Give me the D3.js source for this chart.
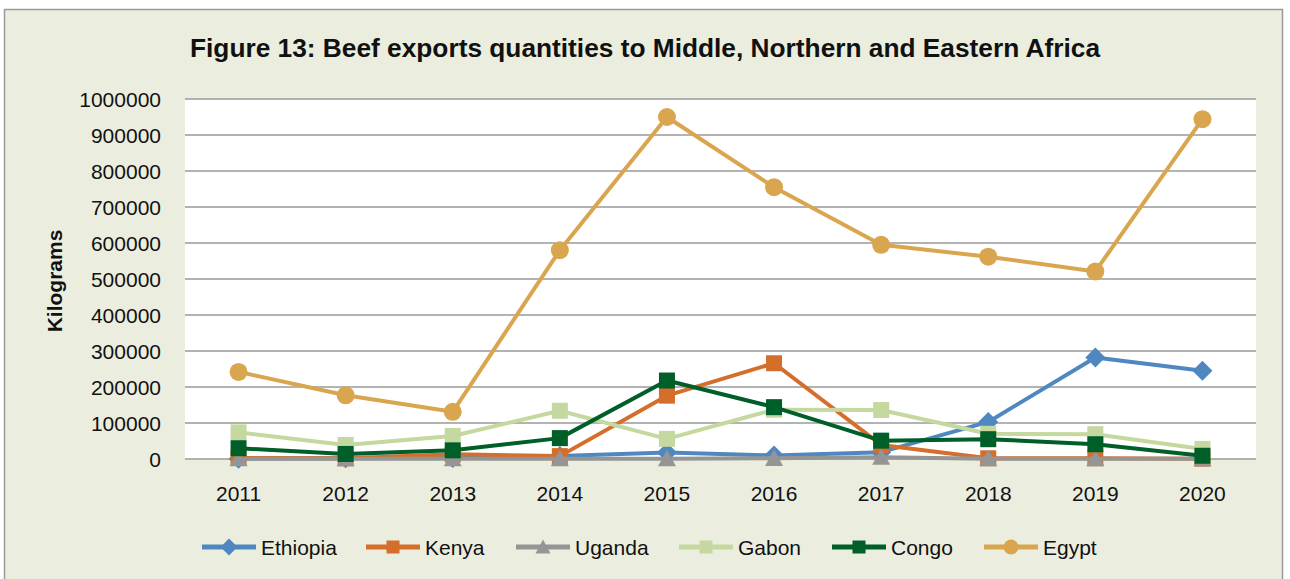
<!DOCTYPE html>
<html>
<head>
<meta charset="utf-8">
<script src="https://cdn.jsdelivr.net/npm/d3@7"></script>
<style>
  html, body { margin: 0; padding: 0; background: #fff; }
  svg { display: block; font-family: "Liberation Sans", Arial, sans-serif; }
</style>
</head>
<body>
<svg id="chart" width="1290" height="579"></svg>
<script>
const years = ["2011", "2012", "2013", "2014", "2015", "2016", "2017", "2018", "2019", "2020"];
const yTicks = [0, 100000, 200000, 300000, 400000, 500000, 600000, 700000, 800000, 900000, 1000000];

const ethiopia = [1000, 2000, 3000, 8000, 18000, 10000, 19000, 103000, 282000, 245000];
const kenya = [3000, 2000, 13000, 8000, 176000, 266000, 39000, 2000, 2000, 1000];
const uganda = [1000, 1000, 1000, 1000, 1000, 2000, 5000, 1000, 1000, 1000];
const gabon = [74000, 39000, 64000, 134000, 56000, 137000, 136000, 70000, 69000, 28000];
const congo = [30000, 14000, 24000, 58000, 218000, 144000, 51000, 55000, 41000, 9000];
const egypt = [242000, 177000, 131000, 580000, 950000, 755000, 595000, 562000, 521000, 944000];

const seriesNames = ["Ethiopia", "Kenya", "Uganda", "Gabon", "Congo", "Egypt"];
const seriesValues = [ethiopia, kenya, uganda, gabon, congo, egypt];
const seriesColors = ["#4F88C0", "#D56E2B", "#959595", "#C5D89F", "#005E29", "#D9A64F"];
const seriesShapes = ["diamond", "square", "triangle", "square", "square", "circle"];

const svg = d3.select("#chart");
const plot = { left: 185, right: 1256, top: 99, bottom: 459 };

// frame
svg.append("rect")
  .attr("x", 4.5).attr("y", 9.5)
  .attr("width", 1278).attr("height", 600)
  .attr("fill", "#EBEEDE")
  .attr("stroke", "#9A9A9A")
  .attr("stroke-width", 1.5);

svg.append("rect")
  .attr("x", plot.left).attr("y", plot.top)
  .attr("width", plot.right - plot.left).attr("height", plot.bottom - plot.top)
  .attr("fill", "#fff");

const x = d3.scaleBand().domain(years).range([plot.left, plot.right]);
const y = d3.scaleLinear().domain([0, 1000000]).range([plot.bottom, plot.top]);

// gridlines
svg.append("g")
  .selectAll("line")
  .data(yTicks)
  .enter().append("line")
  .attr("x1", plot.left).attr("x2", plot.right)
  .attr("y1", d => y(d)).attr("y2", d => y(d))
  .attr("stroke", "#9A9A9A")
  .attr("stroke-width", 1.5);

// y tick labels
svg.append("g")
  .selectAll("text")
  .data(yTicks)
  .enter().append("text")
  .attr("x", 161)
  .attr("y", d => y(d) + 8)
  .attr("text-anchor", "end")
  .attr("font-size", 21)
  .attr("fill", "#111")
  .text(d => d);

// x tick labels
svg.append("g")
  .selectAll("text")
  .data(years)
  .enter().append("text")
  .attr("x", d => x(d) + x.bandwidth() / 2)
  .attr("y", 501)
  .attr("text-anchor", "middle")
  .attr("font-size", 21)
  .attr("fill", "#111")
  .text(d => d);

// titles
svg.append("text")
  .attr("x", 645).attr("y", 57)
  .attr("text-anchor", "middle")
  .attr("font-size", 26)
  .attr("font-weight", "bold")
  .attr("fill", "#111")
  .attr("textLength", 910)
  .attr("lengthAdjust", "spacingAndGlyphs")
  .text("Figure 13: Beef exports quantities to Middle, Northern and Eastern Africa");

svg.append("text")
  .attr("transform", "translate(62,281) rotate(-90)")
  .attr("text-anchor", "middle")
  .attr("font-size", 21)
  .attr("font-weight", "bold")
  .attr("fill", "#111")
  .text("Kilograms");

function marker(g, shape, color, s) {
  if (shape == "square") {
    g.append("rect").attr("x", -s / 2).attr("y", -s / 2).attr("width", s).attr("height", s).attr("fill", color);
  } else if (shape == "circle") {
    g.append("circle").attr("r", s / 2 + 1).attr("fill", color);
  } else if (shape == "diamond") {
    const r = s / 2 + 2;
    g.append("path").attr("d", `M0,${-r}L${r},0L0,${r}L${-r},0Z`).attr("fill", color);
  } else {
    const r = s / 2 + 1;
    g.append("path").attr("d", `M0,${-r}L${r},${r * 0.85}L${-r},${r * 0.85}Z`).attr("fill", color);
  }
}

const line = d3.line()
  .x((d, i) => x(years[i]) + x.bandwidth() / 2)
  .y(d => y(d));

seriesValues.forEach(function(vals, k) {
  const g = svg.append("g").attr("class", "series");
  g.append("path")
    .attr("d", line(vals))
    .attr("fill", "none")
    .attr("stroke", seriesColors[k])
    .attr("stroke-width", 4)
    .attr("stroke-linejoin", "round");
  vals.forEach(function(v, i) {
    const m = g.append("g").attr("transform", `translate(${x(years[i]) + x.bandwidth() / 2},${y(v)})`);
    marker(m, seriesShapes[k], seriesColors[k], 16);
  });
});

// legend
const legendX = [202, 366, 516, 679, 832, 984];
const legend = svg.append("g");
seriesNames.forEach(function(name, k) {
  const lg = legend.append("g").attr("transform", `translate(${legendX[k]},547)`);
  lg.append("line").attr("x1", 0).attr("x2", 54).attr("stroke", seriesColors[k]).attr("stroke-width", 5);
  const m = lg.append("g").attr("transform", "translate(27,0)");
  marker(m, seriesShapes[k], seriesColors[k], 13);
  lg.append("text").attr("x", 59).attr("y", 8).attr("font-size", 21).attr("fill", "#111").text(name);
});
</script>
</body>
</html>
